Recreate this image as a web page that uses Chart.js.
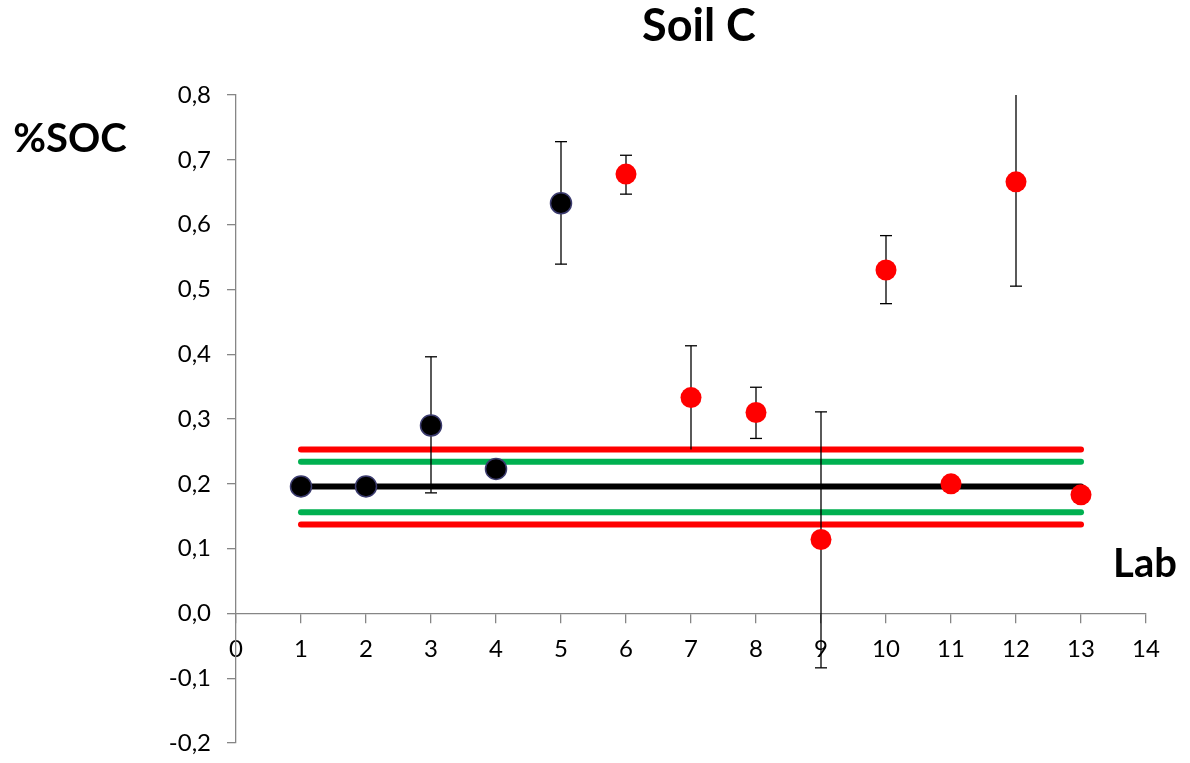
<!DOCTYPE html>
<html>
<head>
<meta charset="utf-8">
<script src="https://cdn.jsdelivr.net/npm/chart.js@4.4.1/dist/chart.umd.min.js"></script>
<style>
  html, body { margin: 0; padding: 0; background: #ffffff; }
  #wrap { width: 1190px; height: 763px; position: relative; }
</style>
</head>
<body>
<div id="wrap"><canvas id="c" width="1190" height="763"></canvas></div>
<script>
// ---- data ----
const labs = [1, 2, 3, 4, 5, 6, 7, 8, 9, 10, 11, 12, 13];
const socMean = [0.196, 0.196, 0.290, 0.223, 0.633, 0.678, 0.333, 0.310, 0.114, 0.530, 0.200, 0.666, 0.183];
const errHigh = [null, null, 0.396, null, 0.728, 0.707, 0.413, 0.349, 0.311, 0.583, null, 0.830, null];
const errLow  = [null, null, 0.186, null, 0.539, 0.647, 0.253, 0.270, -0.084, 0.478, null, 0.505, null];
const blackLabs = [1, 2, 3, 4, 5];
const redLabs = [6, 7, 8, 9, 10, 11, 12, 13];
const lineStart = 1;
const lineEnd = 13;
const consensusValue = 0.196;
const innerLimits = [0.234, 0.156];
const outerLimits = [0.253, 0.137];
const xTicks = [0, 1, 2, 3, 4, 5, 6, 7, 8, 9, 10, 11, 12, 13, 14];
const yTicks = [-0.2, -0.1, 0.0, 0.1, 0.2, 0.3, 0.4, 0.5, 0.6, 0.7, 0.8];
const titleText = 'Soil C';
const yTitle = '%SOC';
const xTitle = 'Lab';

// ---- build datasets ----
function pointsFor(list) {
  return list.map(l => ({ x: l, y: socMean[labs.indexOf(l)] }));
}
function hLine(v) {
  return [{ x: lineStart, y: v }, { x: lineEnd, y: v }];
}
const lineStyle = { type: 'line', borderWidth: 6, borderCapStyle: 'round', pointRadius: 0, showLine: true, fill: false, tension: 0 };

const datasets = [
  { label: 'red', type: 'scatter', data: pointsFor(redLabs), backgroundColor: '#ff0000', borderColor: '#ff0000', borderWidth: 0, pointRadius: 10.5, pointHoverRadius: 10.5 },
  { label: 'black', type: 'scatter', data: pointsFor(blackLabs), backgroundColor: '#000000', borderColor: '#3b3b6e', borderWidth: 1.5, pointRadius: 10.5, pointHoverRadius: 10.5 },
  Object.assign({ label: 'consensus', data: hLine(consensusValue), borderColor: '#000000' }, lineStyle),
  Object.assign({ label: 'inner hi', data: hLine(innerLimits[0]), borderColor: '#00b050' }, lineStyle),
  Object.assign({ label: 'inner lo', data: hLine(innerLimits[1]), borderColor: '#00b050' }, lineStyle),
  Object.assign({ label: 'outer hi', data: hLine(outerLimits[0]), borderColor: '#ff0000' }, lineStyle),
  Object.assign({ label: 'outer lo', data: hLine(outerLimits[1]), borderColor: '#ff0000' }, lineStyle)
];

const fmt = v => (Math.round(v * 10) / 10).toFixed(1).replace('.', ',');

// error bars: caps under the limit lines, stems above them, points on top
const errorBars = {
  id: 'errorBars',
  beforeDatasetsDraw(chart) {
    const { ctx, chartArea, scales: { x, y } } = chart;
    ctx.save();
    ctx.beginPath();
    ctx.rect(chartArea.left, chartArea.top, chartArea.right - chartArea.left, chartArea.bottom - chartArea.top);
    ctx.clip();
    ctx.strokeStyle = '#000000';
    ctx.lineWidth = 1.3;
    labs.forEach((l, i) => {
      if (errHigh[i] == null) return;
      const px = x.getPixelForValue(l);
      [errHigh[i], errLow[i]].forEach(v => {
        const py = y.getPixelForValue(v);
        ctx.beginPath();
        ctx.moveTo(px - 6, py);
        ctx.lineTo(px + 6, py);
        ctx.stroke();
      });
    });
    ctx.restore();
  },
  beforeDatasetDraw(chart, args) {
    if (args.index !== 1) return;
    const { ctx, chartArea, scales: { x, y } } = chart;
    ctx.save();
    ctx.beginPath();
    ctx.rect(chartArea.left, chartArea.top, chartArea.right - chartArea.left, chartArea.bottom - chartArea.top);
    ctx.clip();
    ctx.strokeStyle = '#000000';
    ctx.lineWidth = 1.3;
    labs.forEach((l, i) => {
      if (errHigh[i] == null) return;
      const px = x.getPixelForValue(l);
      ctx.beginPath();
      ctx.moveTo(px, y.getPixelForValue(errHigh[i]));
      ctx.lineTo(px, y.getPixelForValue(errLow[i]));
      ctx.stroke();
    });
    ctx.restore();
  }
};

const texts = {
  id: 'texts',
  afterDraw(chart) {
    const { ctx } = chart;
    ctx.save();
    ctx.fillStyle = '#000000';
    ctx.textBaseline = 'middle';
    ctx.font = 'bold 45px Lato';
    ctx.textAlign = 'center';
    ctx.fillText(titleText, 699, 26);
    ctx.font = 'bold 40px Lato';
    ctx.fillText(yTitle, 70, 139);
    ctx.fillText(xTitle, 1145, 564);
    ctx.restore();
  }
};

new Chart(document.getElementById('c'), {
  type: 'scatter',
  data: { datasets },
  options: {
    responsive: false,
    animation: false,
    events: [],
    layout: { padding: { left: 0, top: 95, right: 44, bottom: 20 } },
    plugins: { legend: { display: false }, tooltip: { enabled: false }, title: { display: false } },
    scales: {
      x: {
        type: 'linear',
        position: { y: 0 },
        min: 0, max: 14,
        afterFit(s) { s.height = 0; },
        afterBuildTicks(s) { s.ticks = xTicks.map(v => ({ value: v })); },
        ticks: { autoSkip: false, maxRotation: 0, padding: 12, color: '#000000', font: { family: 'Lato', size: 24 }, callback: v => String(v) },
        grid: { drawOnChartArea: false, drawTicks: true, tickLength: 9, color: '#868686', lineWidth: 1.3 },
        border: { display: true, color: '#868686', width: 1.3 }
      },
      y: {
        type: 'linear',
        min: -0.2, max: 0.8,
        afterFit(s) { s.width = 236; s.paddingBottom = 0; s.paddingTop = 0; },
        afterBuildTicks(s) { s.ticks = yTicks.map(v => ({ value: v })); },
        ticks: { autoSkip: false, padding: 16, color: '#000000', font: { family: 'Lato', size: 24 }, callback: v => fmt(v) },
        grid: { drawOnChartArea: false, drawTicks: true, tickLength: 9, color: '#868686', lineWidth: 1.3 },
        border: { display: true, color: '#868686', width: 1.3 }
      }
    }
  },
  plugins: [errorBars, texts]
});
</script>
</body>
</html>
